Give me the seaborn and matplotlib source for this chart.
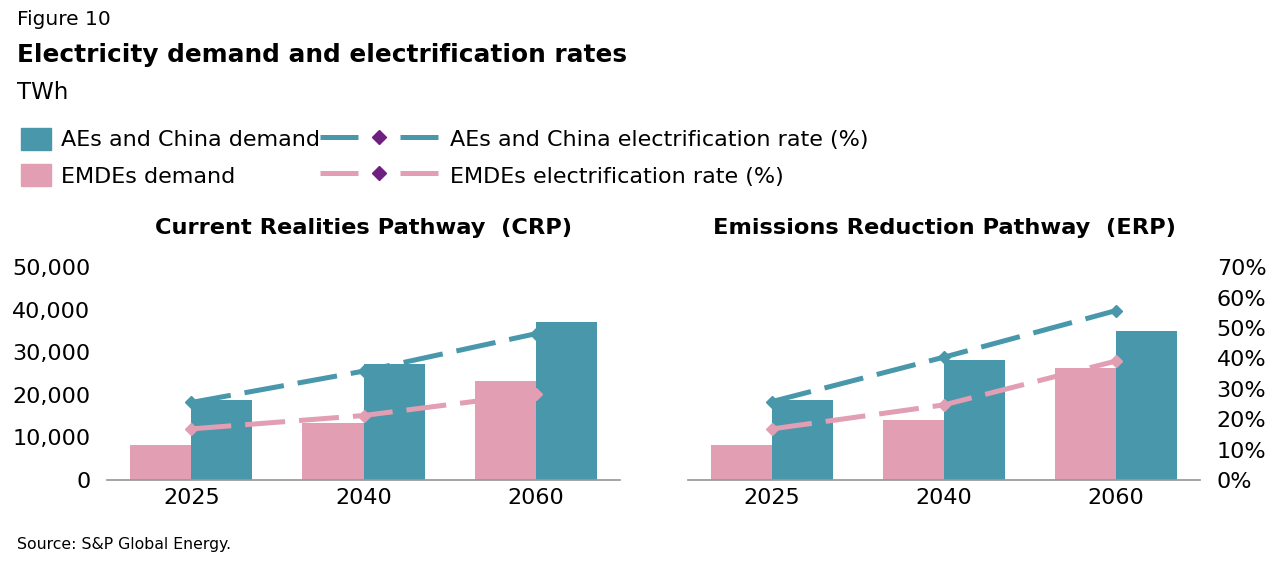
import numpy as np
import pandas as pd
import matplotlib
matplotlib.use("Agg")
import matplotlib.pyplot as plt
import seaborn as sns
from matplotlib.patches import Patch
from matplotlib.lines import Line2D

years = ['2025', '2040', '2060']
crp_emde = [8100, 13400, 23200]
crp_ae = [18700, 27300, 37000]
erp_emde = [8100, 14200, 26300]
erp_ae = [18800, 28100, 35100]
crp_ae_rate = [25.5, 35.8, 48.1]
crp_emde_rate = [16.8, 21.2, 28.4]
erp_ae_rate = [25.8, 40.4, 55.7]
erp_emde_rate = [16.8, 24.7, 39.1]

TEAL = '#4997ab'
PINK = '#e29eb2'
PURPLE = '#6f1f7f'
groups = ['EMDEs demand', 'AEs and China demand']

sns.set_theme(style="white")
plt.rcParams['font.family'] = ['DejaVu Sans']
plt.rcParams['text.color'] = 'black'
plt.rcParams['xtick.color'] = 'black'
plt.rcParams['ytick.color'] = 'black'

fig = plt.figure(figsize=(12.8, 5.66), dpi=100)
ax_l = fig.add_axes([0.0836, 0.152, 0.4008, 0.376])
ax_r = fig.add_axes([0.5375, 0.152, 0.4, 0.376])

panels = [
    (ax_l, 'Current Realities Pathway  (CRP)', crp_emde, crp_ae, crp_emde_rate, crp_ae_rate),
    (ax_r, 'Emissions Reduction Pathway  (ERP)', erp_emde, erp_ae, erp_emde_rate, erp_ae_rate),
]

for i, (ax, title, emde, ae, emde_rate, ae_rate) in enumerate(panels):
    df = pd.DataFrame({
        'year': years * 2,
        'group': [groups[0]] * 3 + [groups[1]] * 3,
        'demand': emde + ae,
    })
    sns.barplot(data=df, x='year', y='demand', hue='group', hue_order=groups,
                palette=[PINK, TEAL], width=0.71, saturation=1, legend=False,
                linewidth=0, ax=ax)
    ax.set_xlim(-0.49, 2.49)
    ax.set_ylim(0, 50000)
    ax.set_xlabel('')
    ax.set_ylabel('')
    ax.set_title(title, fontsize=16.2, fontweight='bold', pad=24)
    for s in ['top', 'right', 'left']:
        ax.spines[s].set_visible(False)
    ax.spines['bottom'].set_color('#999999')
    ax.tick_params(axis='x', labelsize=16, length=0, pad=6)
    if i == 0:
        ax.set_yticks(range(0, 50001, 10000))
        ax.set_yticklabels([f'{v:,}' for v in range(0, 50001, 10000)])
        ax.tick_params(axis='y', labelsize=16, length=0, pad=12)
    else:
        ax.set_yticks([])

    tw = ax.twinx()
    pos = np.arange(len(years))
    for rate, col in [(ae_rate, TEAL), (emde_rate, PINK)]:
        tw.plot(pos, rate, color=col, lw=3.6, linestyle=(0, (8, 2.8)), marker='D',
                markersize=6.5, markeredgecolor=col, markerfacecolor=col,
                dash_capstyle='butt')
    tw.set_ylim(0, 70)
    for s in tw.spines.values():
        s.set_visible(False)
    if i == 1:
        tw.set_yticks(range(0, 71, 10))
        tw.set_yticklabels([f'{v}%' for v in range(0, 71, 10)])
        tw.tick_params(axis='y', labelsize=16, length=0, pad=12)
    else:
        tw.set_yticks([])

fig.text(0.013, 0.965, 'Figure 10', fontsize=14.5, va='center')
fig.text(0.013, 0.903, 'Electricity demand and electrification rates', fontsize=17.85,
         fontweight='bold', va='center')
fig.text(0.013, 0.836, 'TWh', fontsize=16.5, va='center')
fig.text(0.013, 0.038, 'Source: S&P Global Energy.', fontsize=11.3, va='center')

bar_handles = [Patch(color=TEAL), Patch(color=PINK)]
fig.legend(bar_handles, ['AEs and China demand', 'EMDEs demand'], loc='upper left',
           bbox_to_anchor=(0.0078, 0.794), frameon=False, fontsize=16, borderpad=0,
           handlelength=1.35, handleheight=1.15, handletextpad=0.45, labelspacing=0.62)

line_handles = []
for col in [TEAL, PINK]:
    ln = Line2D([0], [0], color=col, lw=3.6, linestyle=(0, (7.6, 8.4)), dash_capstyle='butt')
    mk = Line2D([0], [0], color=PURPLE, marker='D', markersize=7, lw=0)
    line_handles.append((ln, mk))
fig.legend(line_handles, ['AEs and China electrification rate (%)', 'EMDEs electrification rate (%)'],
           loc='upper left', bbox_to_anchor=(0.241, 0.794), frameon=False, fontsize=16,
           borderpad=0, handlelength=5.36, handleheight=1.15, handletextpad=0.5, labelspacing=0.62)

fig.savefig('out.png', dpi=100)
